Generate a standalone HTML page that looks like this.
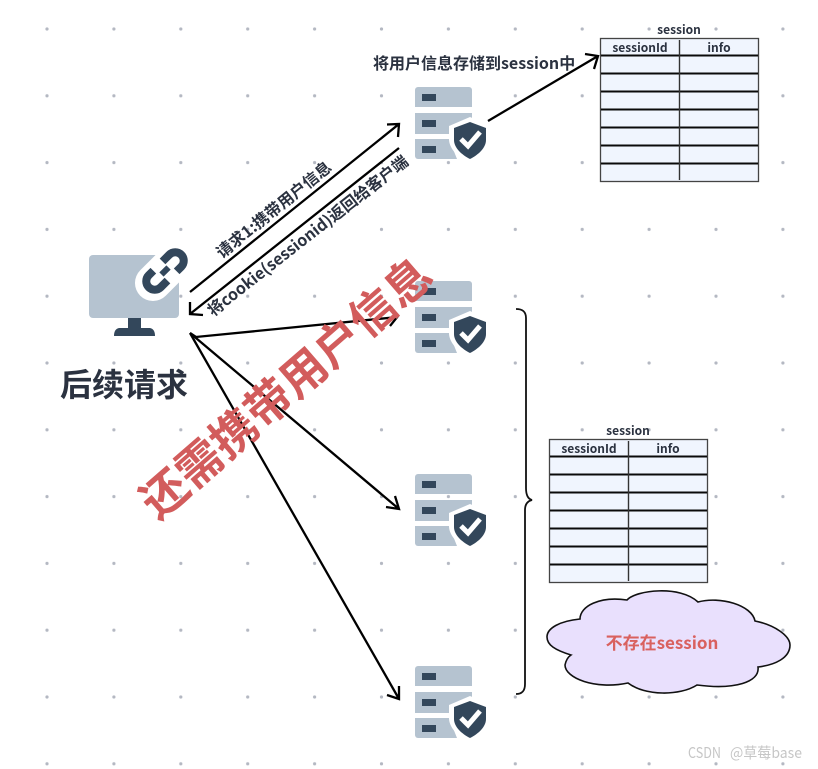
<!DOCTYPE html>
<html><head><meta charset="utf-8"><style>
html,body{margin:0;padding:0;background:#fff}
svg{display:block}
text{font-family:"Noto Sans CJK SC","Liberation Sans",sans-serif}
</style></head><body>
<svg width="818" height="769" viewBox="0 0 818 769" xmlns="http://www.w3.org/2000/svg">
<defs>
<pattern id="dots" x="47" y="29" width="66.9" height="66.8" patternUnits="userSpaceOnUse"><circle cx="0" cy="0" r="1.6" fill="#b4b8c2"/><circle cx="66.9" cy="0" r="1.6" fill="#b4b8c2"/><circle cx="0" cy="66.8" r="1.6" fill="#b4b8c2"/><circle cx="66.9" cy="66.8" r="1.6" fill="#b4b8c2"/></pattern>
<g id="srv">
<path d="M3 0H54a3 3 0 0 1 3 3V20H0V3a3 3 0 0 1 3-3Z" fill="#b5c3d0"/>
<path d="M0 26H57V31L34 43V47H0Z" fill="#b5c3d0"/>
<path d="M0 52H34L42 72H3a3 3 0 0 1-3-3Z" fill="#b5c3d0"/>
<rect x="7" y="7" width="14" height="7" fill="#33475b"/>
<rect x="7" y="33" width="14" height="7" fill="#33475b"/>
<rect x="7" y="59" width="14" height="7" fill="#33475b"/>
<path d="M55 30L76 39V52C76 62 66 72 55 75C44 72 34 62 34 52V39Z" fill="#fff"/>
<path d="M55 35L71 41V53C71 61 63 68 55 72C47 68 39 61 39 53V41Z" fill="#33475b"/>
<path d="M46 52L53 59L65 45" fill="none" stroke="#fff" stroke-width="5"/>
</g>
<g id="tbl">
<rect x="0.5" y="0.5" width="158" height="143" fill="#f0f5fe" stroke="#444" stroke-width="1.3"/>
<path d="M1 17.5H158M1 35.5H158M1 53.5H158M1 71.5H158M1 89.5H158M1 107.5H158M1 125.5H158" stroke="#0a0a0a" stroke-width="2"/>
<path d="M79.5 2V142" stroke="#333" stroke-width="1.4"/>
<text x="40" y="14" font-size="12" font-weight="700" fill="#2b3240" text-anchor="middle">sessionId</text>
<text x="119" y="14" font-size="12" font-weight="700" fill="#2b3240" text-anchor="middle">info</text>
<text x="79" y="-4" font-size="12" font-weight="700" fill="#2b3240" text-anchor="middle">session</text>
</g>
</defs>
<rect width="818" height="769" fill="#fff"/>
<rect x="40" y="20" width="778" height="749" fill="url(#dots)"/>

<use href="#tbl" x="600" y="38"/>
<use href="#tbl" x="549" y="439"/>

<use href="#srv" x="415" y="87"/>
<use href="#srv" x="415" y="281"/>
<use href="#srv" x="415" y="474"/>
<use href="#srv" x="415" y="666"/>

<!-- monitor -->
<rect x="89" y="255" width="90" height="63" rx="4" fill="#b5c3d0"/>
<path d="M128 318H141V328H150Q155 329 155 336H114Q114 329 119 328H128Z" fill="#33475b"/>
<g transform="rotate(-45 165 271)">
<rect x="130" y="253" width="70" height="36" rx="18" fill="#fff"/>
<path d="M160 279.500H150.500a8.500 8.500 0 0 1 0-17H157M170 262.500H179.500a8.500 8.500 0 0 1 0 17H173" fill="none" stroke="#33475b" stroke-width="8"/>
<rect x="160" y="268" width="10" height="6" fill="#33475b"/>
</g>

<text x="60" y="396" font-size="32" font-weight="700" fill="#2b3240">后续请求</text>

<g fill="none" stroke="#000" stroke-width="2.3">
<path d="M190 292L399 124M387 124.500L399 124L398 137"/>
<path d="M399 148L190 314M190 302L190 314L203 315"/>
<path d="M488 121L598 56M585 54L598 56L594 69"/>
<path d="M190 333L196 337L398 317M391 307L398 316L390 326"/>
<path d="M190 333L399 509M395 496L399 509L386 507"/>
<path d="M190 333L399 699M399 686L399 699L387 695"/>
</g>

<text transform="translate(222 259) rotate(-39)" font-size="16" font-weight="700" fill="#2b3240">请求1:携带用户信息</text>
<text transform="translate(213 317) rotate(-38)" font-size="16" font-weight="700" fill="#2b3240">将cookie(sessionid)返回给客户端</text>
<text transform="translate(373 69)" font-size="16" font-weight="700" fill="#2b3240">将用户信息存储到session中</text>

<text transform="translate(158 521) rotate(-41)" font-size="46" font-weight="700" fill="#d25c5c">还需携带用户信息</text>

<!-- brace -->
<path d="M516 309C522 309 526 311 526 318V488C526 495 528 499 532 500C528 501 525 504 525 510V684C525 691 522 694 516 694" fill="none" stroke="#111" stroke-width="1.800"/>

<!-- cloud -->
<path d="M580 619C580 606 600 596 627 600C636 590 680 585 698 602C720 596 752 605 755 621C775 625 790 636 790 645C790 658 775 665 758 667C760 682 735 690 697 685C680 696 645 696 628 683C595 690 565 678 565 665C566 660 568 657 571 655C555 650 547 645 547 637C547 628 560 621 580 619Z" fill="#e9e0fd" stroke="#111" stroke-width="1.600"/>
<text x="662" y="649" font-size="17" font-weight="700" fill="#d9615f" text-anchor="middle">不存在session</text>

<text x="688" y="758" font-size="15" fill="#c6c6c6" font-weight="400" textLength="33" lengthAdjust="spacingAndGlyphs">CSDN</text>
<text x="730" y="758" font-size="15" fill="#c6c6c6" font-weight="400" textLength="72" lengthAdjust="spacingAndGlyphs">@草莓base</text>
</svg>
</body></html>
